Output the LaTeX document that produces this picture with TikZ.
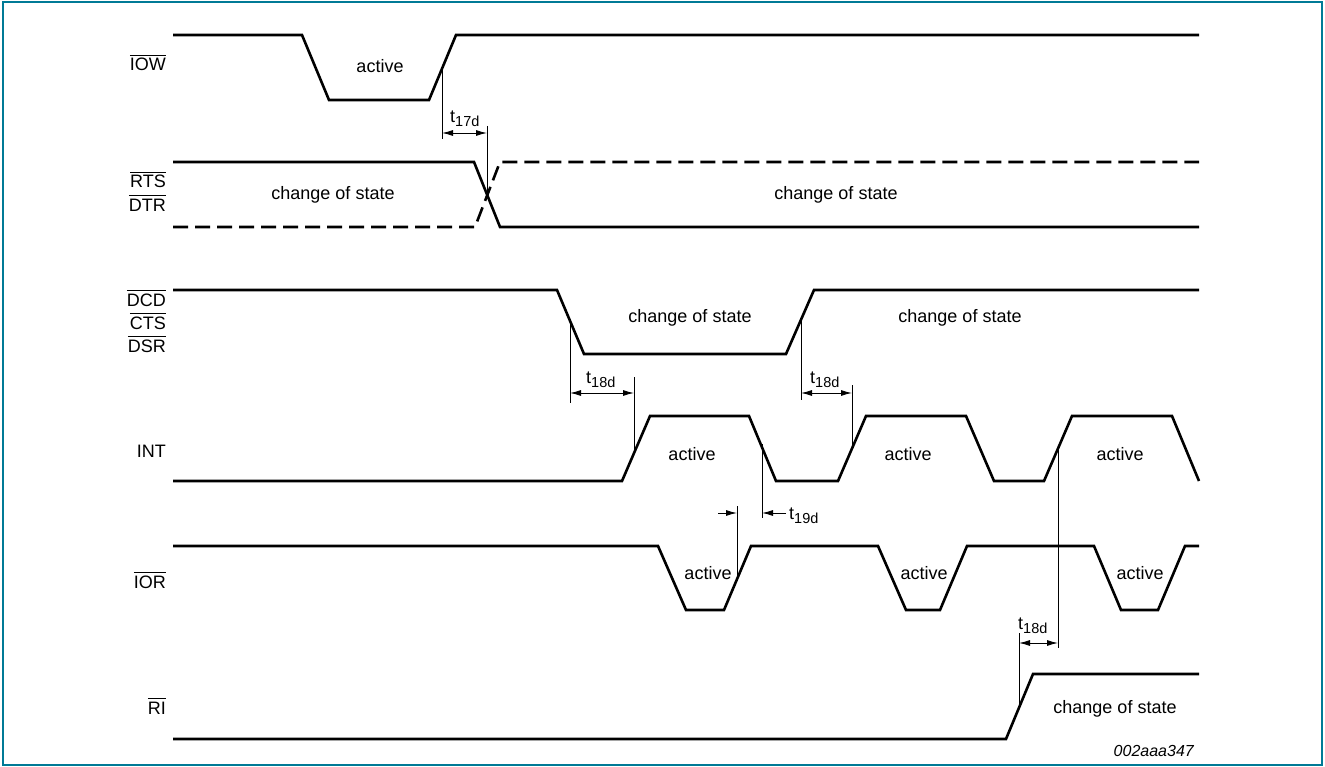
\documentclass[tikz,border=0pt]{standalone}
\usepackage{fontspec}
\setmainfont{Liberation Sans}
\usetikzlibrary{arrows.meta}
\definecolor{framecol}{RGB}{0,122,150}
\newcommand\ovl[1]{\vbox{\hrule height 0.9pt\kern 2.8pt\hbox{#1}}}
\newcommand\tdly[1]{t\raisebox{-4pt}{\fontsize{14.5}{15}\selectfont #1}}
\begin{document}
\begin{tikzpicture}[x=1pt,y=-1pt,
  sig/.style={line width=2.6pt},
  dsig/.style={line width=2.6pt, dash pattern=on 15pt off 7pt},
  dim/.style={line width=0.9pt},
  tip/.style={line width=0.9pt, -{Latex[length=11pt,width=6pt]}},
  dimarr/.style={line width=0.9pt, {Latex[length=11pt,width=6pt]}-{Latex[length=11pt,width=6pt]}},
  lbl/.style={font=\fontsize{18}{20}\selectfont, inner sep=0pt, anchor=base east},
  txt/.style={font=\fontsize{18}{20}\selectfont, inner sep=0pt, anchor=base},
  dtxt/.style={font=\fontsize{18}{20}\selectfont, inner sep=0pt, anchor=base west}]
\useasboundingbox (0,0) rectangle (1325,767);
\draw[framecol, line width=2pt] (2.5,2.5) rectangle (1322,764.5);

% signal names
\node[lbl] (nIOW) at (166,71) {\ovl{IOW}};
\node[lbl] (nRTS) at (166,188) {\ovl{RTS}};
\node[lbl] (nDTR) at (166,211.5) {\ovl{DTR}};
\node[lbl] (nDCD) at (166,306.5) {\ovl{DCD}};
\node[lbl] (nCTS) at (166,329.5) {\ovl{CTS}};
\node[lbl] (nDSR) at (166,352.5) {\ovl{DSR}};
\node[lbl] (nINT) at (166,457) {INT};
\node[lbl] (nIOR) at (166,588) {\ovl{IOR}};
\node[lbl] (nRI) at (166,714) {\ovl{RI}};

% waveforms
\draw[sig] (173,35) -- (302,35) -- (329,100) -- (429,100) -- (456,35) -- (1199,35);
\draw[sig] (173,162) -- (474,162) -- (500,227) -- (1199,227);
\draw[dsig] (173,227) -- (475,227) -- (500,162) -- (1199,162);
\draw[sig] (173,290) -- (557,290) -- (584,354) -- (786,354) -- (814,290) -- (1199,290);
\draw[sig] (173,481) -- (622,481) -- (650,416) -- (749,416) -- (776,481) -- (838,481) -- (866,416) -- (966,416) -- (994,481) -- (1044,481) -- (1072,416) -- (1172,416) -- (1199,481);
\draw[sig] (173,546) -- (658,546) -- (686,610) -- (724,610) -- (751,546) -- (878,546) -- (906,610) -- (940,610) -- (967,546) -- (1094,546) -- (1121,610) -- (1158,610) -- (1185,546) -- (1199,546);
\draw[sig] (173,739) -- (1006,739) -- (1033,674) -- (1199,674);

% texts in waveforms
\node[txt] (aIOW) at (380,73) {active};
\node[txt] (cRTS1) at (333,200) {change of state};
\node[txt] (cRTS2) at (836,200) {change of state};
\node[txt] (cDCD1) at (690,323) {change of state};
\node[txt] (cDCD2) at (960,323) {change of state};
\node[txt] (aINT1) at (692,460) {active};
\node[txt] (aINT2) at (908,460) {active};
\node[txt] (aINT3) at (1120,460) {active};
\node[txt] (aIOR1) at (708,579) {active};
\node[txt] (aIOR2) at (924,579) {active};
\node[txt] (aIOR3) at (1140,579) {active};
\node[txt] (cRI) at (1115,713) {change of state};
\node[font=\fontsize{16}{18}\selectfont\itshape, inner sep=0pt, anchor=base east] (code) at (1194,756) {002aaa347};

% t17d
\coordinate (a17) at (442,133); \coordinate (b17) at (487,133);
\draw[dim] (442,68.7) -- (442,139);
\draw[dim] (487,126) -- (487,195);
\draw[dimarr] (a17) -- (b17);
\node[dtxt] (t17) at (450,123) {\tdly{17d}};

% t18d first
\coordinate (a18) at (570,393); \coordinate (b18) at (634,393);
\draw[dim] (570,320.8) -- (570,403);
\draw[dim] (634,377) -- (634,453);
\draw[dimarr] (a18) -- (b18);
\node[dtxt] (t18a) at (586,383) {\tdly{18d}};

% t18d second
\coordinate (c18) at (801,393); \coordinate (d18) at (852,393);
\draw[dim] (801,319.7) -- (801,400);
\draw[dim] (852,385) -- (852,448.5);
\draw[dimarr] (c18) -- (d18);
\node[dtxt] (t18b) at (810,383) {\tdly{18d}};

% t19d
\coordinate (e19) at (718,513); \coordinate (f19) at (737,513);
\coordinate (g19) at (786,513); \coordinate (h19) at (762,513);
\draw[dim] (762,444) -- (762,518);
\draw[dim] (737,506) -- (737,579);
\draw[tip] (e19) -- (f19);
\draw[tip] (g19) -- (h19);
\node[dtxt] (t19) at (789,519) {\tdly{19d}};

% t18d RI
\coordinate (i18) at (1019,643); \coordinate (j18) at (1058,643);
\draw[dim] (1019,633) -- (1019,707.7);
\draw[dim] (1058,448.5) -- (1058,648);
\draw[dimarr] (i18) -- (j18);
\node[dtxt] (t18c) at (1018,629) {\tdly{18d}};
\end{tikzpicture}
\end{document}
